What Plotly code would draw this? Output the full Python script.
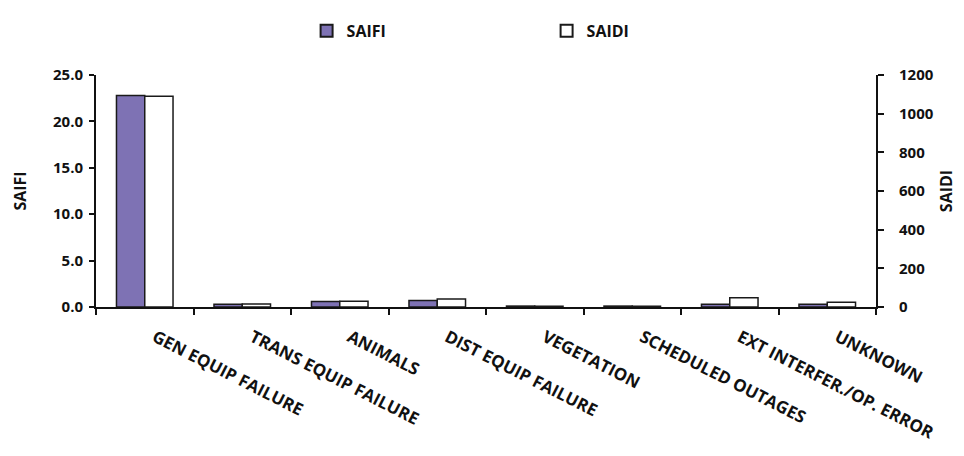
import plotly.graph_objects as go

categories = ["GEN EQUIP FAILURE", "TRANS EQUIP FAILURE", "ANIMALS", "DIST EQUIP FAILURE",
              "VEGETATION", "SCHEDULED OUTAGES", "EXT INTERFER./OP. ERROR", "UNKNOWN"]
saifi = [22.8, 0.3, 0.6, 0.7, 0.1, 0.1, 0.3, 0.3]
saidi = [1090, 15, 30, 42, 4, 4, 48, 25]

font_fam = "Open Sans, Lato, sans-serif"

fig = go.Figure()
fig.add_trace(go.Bar(
    x=categories, y=saifi, name="SAIFI", yaxis="y", offsetgroup="1",
    marker=dict(color="#7e72b4", line=dict(color="#1a1a1a", width=1.5)),
))
fig.add_trace(go.Bar(
    x=categories, y=saidi, name="SAIDI", yaxis="y2", offsetgroup="2",
    marker=dict(color="white", line=dict(color="#1a1a1a", width=1.5)),
))

fig.update_layout(
    width=964, height=456,
    margin=dict(l=88, r=96, t=67, b=157, autoexpand=False),
    paper_bgcolor="white", plot_bgcolor="white",
    barmode="group", bargap=0.42, bargroupgap=0,
    font=dict(family=font_fam, color="#111111"),
    showlegend=True,
    legend=dict(
        orientation="h", x=0.27, xanchor="left", y=1.19, yanchor="middle",
        entrywidth=195, entrywidthmode="pixels",
        font=dict(size=16, family=font_fam, weight="bold"),
        itemsizing="constant",
    ),
    xaxis=dict(
        type="category", tickangle=27, tickson="boundaries",
        ticks="outside", ticklen=6, tickwidth=2, tickcolor="#111",
        showline=True, linecolor="#111", linewidth=2,
        showgrid=False, automargin=False, ticklabelstandoff=12, ticklabelshift=10,
        tickfont=dict(size=17, family=font_fam, weight="bold"),
    ),
    yaxis=dict(
        range=[0, 25], tickvals=[0, 5, 10, 15, 20, 25],
        ticktext=["0.0", "5.0", "10.0", "15.0", "20.0", "25.0"],
        ticks="outside", ticklen=5, tickwidth=2, tickcolor="#111",
        showline=True, linecolor="#111", linewidth=2, showgrid=False,
        zeroline=False, automargin=False, ticklabelstandoff=3,
        tickfont=dict(size=15, family=font_fam, weight="bold"),
        title=dict(text="SAIFI", font=dict(size=16, family=font_fam, weight="bold"), standoff=22),
    ),
    yaxis2=dict(
        range=[0, 1200], tickvals=[0, 200, 400, 600, 800, 1000, 1200],
        overlaying="y", side="right",
        ticks="outside", ticklen=6, tickwidth=2, tickcolor="#111",
        showline=True, linecolor="#111", linewidth=2, showgrid=False,
        zeroline=False, automargin=False, ticklabelstandoff=12,
        tickfont=dict(size=15, family=font_fam, weight="bold"),
        title=dict(text="SAIDI", font=dict(size=16, family=font_fam, weight="bold"), standoff=8),
    ),
)

fig.write_html("out.html")
